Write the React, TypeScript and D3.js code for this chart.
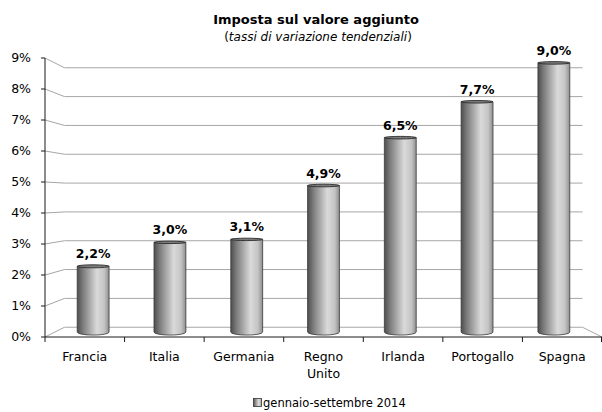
import React from "react";
import * as d3 from "d3";

const categories = ["Francia", "Italia", "Germania", "Regno Unito", "Irlanda", "Portogallo", "Spagna"];
const values = [2.2, 3.0, 3.1, 4.9, 6.5, 7.7, 9.0];
const yTicks = [0, 1, 2, 3, 4, 5, 6, 7, 8, 9];
const title = "Imposta sul valore aggiunto";
const subtitle = "tassi di variazione tendenziali";
const legendLabel = "gennaio-settembre 2014";

const W = 602;
const H = 412;
const FONT = "'DejaVu Sans', Verdana, sans-serif";

export default function App() {
  const x = d3.scaleBand<string>().domain(categories).range([45, 602]).padding(0);
  const y = d3.scaleLinear().domain([0, 9]).range([337, 58]);
  const cx = (45 + 602) / 2;
  const cy = y(4.5);
  const sBack = 0.93;
  const sMid = 0.965;
  const proj = (px: number, py: number, s: number) => [cx + (px - cx) * s, cy + (py - cy) * s];
  const fmt = (v: number) => d3.format(".1f")(v).replace(".", ",") + "%";

  const x0 = x.range()[0];
  const x1 = x.range()[1];

  return (
    <svg width={W} height={H} style={{ position: "absolute", left: 0, top: 0, background: "#fff" }} fontFamily={FONT}>
      <defs>
        <linearGradient id="cyl" x1="0" x2="1" y1="0" y2="0">
          <stop offset="0" stopColor="#4e4e4e" />
          <stop offset="0.18" stopColor="#7c7c7c" />
          <stop offset="0.62" stopColor="#dadada" />
          <stop offset="0.85" stopColor="#c4c4c4" />
          <stop offset="1" stopColor="#8e8e8e" />
        </linearGradient>
      </defs>

      {/* title */}
      <text x={316} y={24} textAnchor="middle" fontWeight="bold" fontSize={13} fill="#000">{title}</text>
      <text x={318} y={41} textAnchor="middle" fontSize={12} fill="#000">
        (<tspan fontStyle="italic">{subtitle}</tspan>)
      </text>

      {/* back wall grid lines */}
      {yTicks.map((t) => {
        const [bx0, by] = proj(x0, y(t), sBack);
        const [bx1] = proj(x1, y(t), sBack);
        return (
          <g key={t}>
            <path d={`M${x0},${y(t)}L${bx0},${by}L${bx1},${by}`} fill="none" stroke="#a6a6a6" strokeWidth={1} />
          </g>
        );
      })}
      {/* floor right edge */}
      {(() => {
        const [bx1, by] = proj(x1, y(0), sBack);
        return <path d={`M${bx1},${by}L${x1},${y(0)}`} stroke="#a6a6a6" fill="none" />;
      })()}

      {/* y axis */}
      <line x1={x0} x2={x0} y1={y(9)} y2={y(0)} stroke="#1a1a1a" />
      {yTicks.map((t) => (
        <g key={"yt" + t}>
          <line x1={x0 - 4} x2={x0} y1={y(t)} y2={y(t)} stroke="#1a1a1a" />
          <text x={31} y={y(t)} dy="0.35em" textAnchor="end" fontSize={12.5} fill="#000">{t + "%"}</text>
        </g>
      ))}

      {/* x axis */}
      <line x1={x0} x2={x1} y1={y(0)} y2={y(0)} stroke="#1a1a1a" />
      {categories.map((c, i) => (
        <line key={"xt" + i} x1={x(c)!} x2={x(c)!} y1={y(0)} y2={y(0) + 5} stroke="#1a1a1a" />
      ))}
      <line x1={x1 - 0.5} x2={x1 - 0.5} y1={y(0)} y2={y(0) + 5} stroke="#1a1a1a" />

      {/* cylinders */}
      {categories.map((c, i) => {
        const v = values[i];
        const xf = x(c)! + x.bandwidth() / 2;
        const [xc, yt] = proj(xf, y(v), sMid);
        const [, yb] = proj(xf, y(0), sMid);
        const w = (x.bandwidth() * 0.415 * sMid) / 2;
        const rt = yt > cy ? Math.max(1.2, (yt - cy) * 0.022) : 1.3;
        const rb = Math.max(1.5, Math.abs(yb - cy) * 0.022);
        const body = `M${xc - w},${yt}L${xc - w},${yb}A${w},${rb} 0 0 0 ${xc + w},${yb}L${xc + w},${yt}Z`;
        return (
          <g key={"bar" + i}>
            <path d={body} fill="url(#cyl)" stroke="#3a3a3a" strokeWidth={0.8} />
            <ellipse cx={xc} cy={yt} rx={w} ry={rt} fill="#7a7a7a" stroke="#2e2e2e" strokeWidth={0.9} />
            <text x={xc} y={yt - 8} textAnchor="middle" fontWeight="bold" fontSize={12.5} fill="#000">{fmt(v)}</text>
          </g>
        );
      })}

      {/* category labels */}
      {categories.map((c, i) => {
        const xf = x(c)! + x.bandwidth() / 2;
        const lines = c.split(" ");
        return (
          <text key={"cl" + i} x={xf} y={361} textAnchor="middle" fontSize={12.5} fill="#000">
            {lines.map((l, j) => (
              <tspan key={j} x={xf} dy={j === 0 ? 0 : 17}>{l}</tspan>
            ))}
          </text>
        );
      })}

      {/* legend */}
      <rect x={253.5} y={398.5} width={8} height={8} fill="url(#cyl)" stroke="#333" strokeWidth={0.8} />
      <text x={263} y={407} fontSize={11.5} fill="#000">{legendLabel}</text>
    </svg>
  );
}
